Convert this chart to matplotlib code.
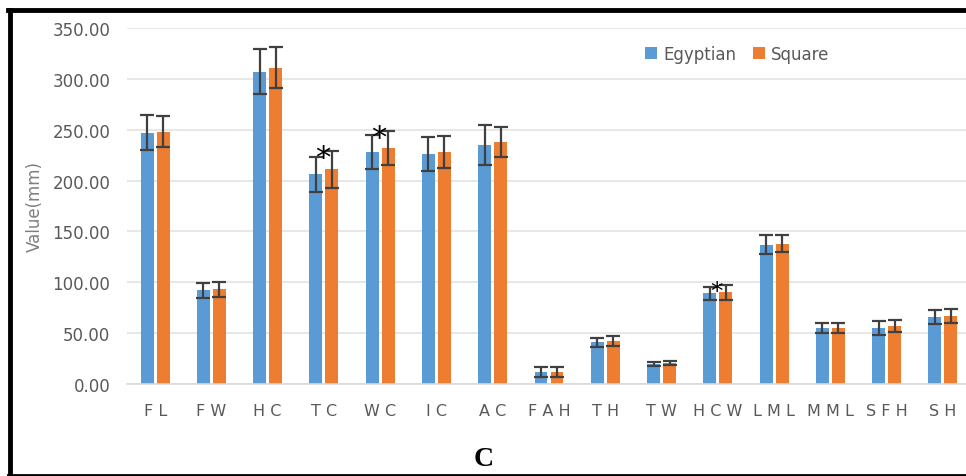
import numpy as np
import matplotlib
matplotlib.use('Agg')
from matplotlib import pyplot as plt
from matplotlib.lines import Line2D

labels = ['F L', 'F W', 'H C', 'T C', 'W C', 'I C', 'A C', 'F A H', 'T H',
          'T W', 'H C W', 'L M L', 'M M L', 'S F H', 'S H']
egyptian = [247, 92, 307, 206, 228, 226, 235, 12, 41, 20, 89, 137, 55, 55, 66]
egyptian_err = [17, 7, 22, 17, 17, 16.5, 20, 5, 4.5, 2, 6.5, 9.5, 5, 6.5, 7]
square = [248, 93, 311, 211, 232, 228, 238, 12, 42, 21, 90, 138, 55, 57, 67]
square_err = [15, 7, 20, 18, 16.5, 15.5, 15, 5, 5, 2, 7, 8.5, 5, 6, 7]
star_labels = ['T C', 'W C', 'H C W']
yticks = [0, 50, 100, 150, 200, 250, 300, 350]

blue = '#5B9BD5'
orange = '#ED7D31'
gray = '#595959'

fig = plt.figure(figsize=(9.66, 4.77), dpi=100)
ax = fig.add_axes([127/966, 92/477, 844/966, 356/477])

x = np.arange(len(labels))
w = 0.23
off = 0.142
err_kw = dict(ecolor='#404040', elinewidth=1.6, capsize=5, capthick=1.6)
ax.bar(x - off, egyptian, w, yerr=egyptian_err, color=blue, label='Egyptian',
       error_kw=err_kw, zorder=2)
ax.bar(x + off, square, w, yerr=square_err, color=orange, label='Square',
       error_kw=err_kw, zorder=2)

# significance marks
for lab in star_labels:
    i = labels.index(lab)
    top = max(egyptian[i] + egyptian_err[i], square[i] + square_err[i])
    size = 22 if lab != 'H C W' else 18
    ax.text(i - 0.02, top - 6, '*', ha='center', va='center', fontsize=size,
            color='black', zorder=3)

ax.set_xlim(-0.5, len(labels) - 0.5)
ax.set_ylim(0, 350)
ax.set_yticks(yticks)
ax.set_yticklabels(['%.2f' % v for v in yticks])
ax.set_xticks(x)
ax.set_xticklabels(labels)
ax.yaxis.grid(True, color='#E3E3E3', linewidth=1.2, zorder=0)
ax.set_axisbelow(True)
for s in ['top', 'right', 'left']:
    ax.spines[s].set_visible(False)
ax.spines['bottom'].set_color('#D9D9D9')
ax.spines['bottom'].set_linewidth(1.2)
ax.tick_params(axis='x', length=0, labelsize=11.5, colors=gray, pad=14)
ax.tick_params(axis='y', length=0, labelsize=12, colors=gray, pad=12)
ax.set_ylabel('Value(mm)', fontsize=12, color='#7F7F7F', labelpad=6)

ax.legend(loc='upper left', bbox_to_anchor=((630-127)/844, (477-40-92)/356 + 0.025),
          ncol=2, frameon=False, fontsize=12, handlelength=0.7, handleheight=0.7,
          columnspacing=1.0, handletextpad=0.4, labelcolor=gray)

fig.text(484/966, 1 - 460/477, 'C', ha='center', va='center', fontsize=20,
         fontweight='bold', family='Liberation Serif')

# black frame: thick top and left, thin bottom
fig.add_artist(Line2D([10/966, 10/966], [1/477, 1 - 11/477], transform=fig.transFigure,
                      color='black', linewidth=3.5))
fig.add_artist(Line2D([8/966, 1], [1 - 11/477, 1 - 11/477], transform=fig.transFigure,
                      color='black', linewidth=3.5))
fig.add_artist(Line2D([8/966, 1], [1.5/477, 1.5/477], transform=fig.transFigure,
                      color='black', linewidth=2))

plt.savefig('out.png', dpi=100)
